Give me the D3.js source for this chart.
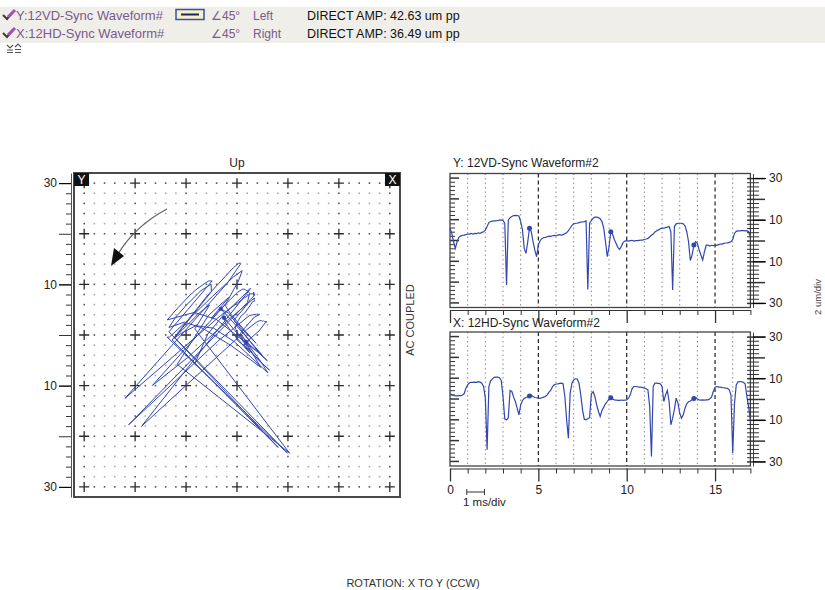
<!DOCTYPE html>
<html>
<head>
<meta charset="utf-8">
<script src="https://cdn.jsdelivr.net/npm/d3@7"></script>
<style>
  body { margin: 0; background: #fff; }
  svg { display: block; font-family: "Liberation Sans", Arial, sans-serif; }
</style>
</head>
<body>
<svg id="chart" width="825" height="590"></svg>
<script>
// header rows
const channelNames = ['Y:12VD-Sync Waveform#', 'X:12HD-Sync Waveform#'];
const probeAngles = [45, 45];
const probeSides = ['Left', 'Right'];
const directAmps = ['DIRECT AMP: 42.63 um pp', 'DIRECT AMP: 36.49 um pp'];

// waveforms, one sample every 0.1 ms from 0 to 17 ms (um)
const sampleStepMs = 0.1;
const waveY = [
  5.9, 3.4, -0.6, -3.8, -0.6, 1.5, 2.1, 2.5, 2.6, 2.8,
  3.1, 3.1, 3.4, 3.1, 3.4, 3.3, 3.7, 3.4, 3.9, 4.2,
  5.0, 6.7, 8.6, 9.1, 9.3, 9.4, 9.4, 9.6, 9.8, 9.9,
  9.6, 8.3, -21.4, 9.9, 11.0, 11.5, 12.0, 12.1, 12.0, 11.8,
  9.1, 5.1, -3.8, -6.2, -0.6, 5.9, 4.2, -0.6, -4.6, -7.8,
  -2.2, -0.1, 0.9, 1.4, 1.5, 1.8, 2.1, 2.0, 2.3, 2.5,
  2.3, 2.6, 2.8, 2.6, 2.8, 3.3, 3.7, 4.7, 5.9, 7.3,
  8.0, 8.3, 8.3, 8.6, 8.8, 8.9, 9.1, 9.4, -23.5, 8.3,
  9.6, 10.7, 11.2, 11.2, 11.0, 10.5, 9.1, 5.9, -0.6, -7.8,
  -3.0, 4.2, 3.1, 0.5, -1.4, -3.3, -4.3, -2.7, -0.9, -0.3,
  -0.1, -0.3, -0.1, 0.1, -0.3, -0.1, -0.1, 0.1, 0.2, 0.2,
  0.5, 0.7, 1.0, 1.8, 2.5, 3.1, 4.1, 4.7, 5.1, 5.6,
  5.9, 5.9, 6.2, 6.4, 6.7, 4.2, -23.8, 6.7, 8.0, 8.3,
  8.3, 8.3, 8.0, 7.0, 4.2, -0.6, -9.6, -7.0, -2.2, -0.6,
  -1.4, -4.6, -7.0, -9.4, -5.4, -2.2, -2.2, -2.7, -2.3, -2.5,
  -2.2, -2.3, -2.0, -1.7, -1.7, -1.4, -1.2, -1.1, -0.9, -0.6,
  0.5, 3.4, 4.4, 4.6, 4.6, 4.7, 4.7, 4.6, 4.7, 4.2,
  1.8
];
const waveX = [
  2.5, 2.0, 1.7, 1.5, 1.5, 1.7, 1.5, 1.9, 2.5, 5.2,
  6.8, 7.8, 8.0, 8.0, 8.1, 8.0, 8.3, 8.1, 7.6, 6.0,
  0.4, -24.4, 6.0, 8.7, 9.7, 10.4, 10.5, 10.5, 10.2, 8.9,
  1.2, -9.7, -10.0, -9.0, 4.1, 3.6, 0.9, -1.2, -4.4, -7.6,
  -2.8, -0.7, 0.3, 0.7, 1.1, 1.4, 1.9, 1.2, 0.7, 0.6,
  0.4, 0.3, 0.6, 0.9, 1.2, 2.0, 3.3, 4.1, 6.0, 6.8,
  7.2, 7.3, 7.5, 7.6, 7.3, 1.2, -10.0, -18.8, 2.8, 7.6,
  9.2, 9.7, 9.6, 7.6, 2.0, -5.2, -9.7, -10.0, -9.5, -9.0,
  2.5, 3.5, 1.2, -2.8, -6.0, -8.4, -5.5, -3.9, -2.3, -1.2,
  0.0, 0.6, 0.0, -0.4, -0.5, -0.7, -0.7, -0.5, -0.7, -0.5,
  -0.4, 0.4, 2.0, 4.9, 6.0, 6.0, 5.9, 5.7, 5.7, 5.5,
  5.2, 4.9, 4.4, -3.6, -27.6, 6.0, 7.6, 7.6, 7.5, 7.3,
  6.0, -1.2, 2.0, 4.1, -1.2, -12.4, -9.2, -5.0, 0.4, -2.0,
  -6.8, -9.2, -7.6, -4.4, -2.3, -1.3, -1.0, -0.4, 0.3, 0.7,
  0.0, -0.4, -0.5, -0.4, -0.5, -0.4, -0.4, 0.1, 0.9, 3.6,
  5.7, 6.0, 5.7, 5.7, 5.5, 5.4, 5.2, 5.1, 4.4, 2.0,
  -26.0, -2.0, 6.8, 8.3, 8.4, 8.3, 8.0, 7.3, 1.2, -3.9,
  -10.0
];
// once-per-turn marks (ms)
const keyphasorMs = [4.5, 9.1, 13.8];

// axes
const ampLabels = [30, 10, -10, -30];
const timeLabels = [0, 5, 10, 15];
const orbitGrid = [-30, -20, -10, 0, 10, 20, 30];

const svg = d3.select('#chart');
const blue = '#3346b0';

// ---------- header ----------
svg.append('rect').attr('x', 0).attr('y', 7).attr('width', 825).attr('height', 36).attr('fill', '#efeee8');

channelNames.forEach((name, i) => {
  const cy = 15 + i * 18;
  const g = svg.append('g');
  g.append('path').attr('d', `M3,${cy} L7,${cy + 4} L13,${cy - 3}`)
    .attr('fill', 'none').attr('stroke', '#3a3a3a').attr('stroke-width', 2);
  g.append('path').attr('d', `M8,${cy + 2} L15,${cy - 5}`)
    .attr('stroke', '#a050b8').attr('stroke-width', 3);
  g.append('text').attr('x', 16).attr('y', cy + 4.5).attr('font-size', 13)
    .attr('fill', '#7a5a90').text(name);
  g.append('text').attr('x', 211).attr('y', cy + 4.5).attr('font-size', 12)
    .attr('fill', '#7a5a90').text(`\u2220${probeAngles[i]}°`);
  g.append('text').attr('x', 253).attr('y', cy + 4.5).attr('font-size', 12)
    .attr('fill', '#7a5a90').text(probeSides[i]);
  g.append('text').attr('x', 307).attr('y', cy + 4.5).attr('font-size', 12.5)
    .attr('fill', '#111').text(directAmps[i]);
});
// line style swatch
svg.append('rect').attr('x', 176).attr('y', 9.5).attr('width', 28).attr('height', 10)
  .attr('fill', '#f6f1c8').attr('stroke', '#3b4fa8').attr('stroke-width', 1.5);
svg.append('line').attr('x1', 181).attr('x2', 199).attr('y1', 14.5).attr('y2', 14.5)
  .attr('stroke', '#1d2660').attr('stroke-width', 2);
// small expand / collapse icons
[10, 18].forEach((x, i) => {
  const g = svg.append('g').attr('stroke', '#555').attr('fill', 'none').attr('stroke-width', 1.2);
  g.append('path').attr('d', i === 0
    ? `M${x - 3},45 L${x},48 L${x + 3},45 M${x - 3},50 H${x + 3} M${x - 3},52.5 H${x + 3}`
    : `M${x - 3},47 L${x},44 L${x + 3},47 M${x - 3},49.5 H${x + 3} M${x - 3},52.5 H${x + 3}`);
});

// ---------- orbit ----------
const ox = d3.scaleLinear().domain([-32, 32]).range([74, 400]);
const oy = d3.scaleLinear().domain([-32, 32]).range([497, 173]);

const orbitG = svg.append('g');
// dots every 2 um
const dotVals = d3.range(-30, 31, 2);
dotVals.forEach(a => {
  dotVals.forEach(b => {
    if (a % 10 === 0 && b % 10 === 0) return;
    const onMajor = a % 10 === 0 || b % 10 === 0;
    orbitG.append('rect').attr('x', ox(a) - 0.8).attr('y', oy(b) - 0.8)
      .attr('width', 1.6).attr('height', 1.6)
      .attr('fill', onMajor ? '#555' : '#aaa');
  });
});
// crosses
orbitGrid.forEach(a => {
  orbitGrid.forEach(b => {
    orbitG.append('path')
      .attr('d', `M${ox(a) - 5},${oy(b)} H${ox(a) + 5} M${ox(a)},${oy(b) - 5} V${oy(b) + 5}`)
      .attr('stroke', '#2a2a2a').attr('stroke-width', 1.3);
  });
});

// orbit built from the two probe waveforms (Y probe 45° left, X probe 45° right)
const yAng = (90 + probeAngles[0]) * Math.PI / 180;
const xAng = (90 - probeAngles[1]) * Math.PI / 180;
const orbit = waveY.map((y, i) => [
  waveX[i] * Math.cos(xAng) + y * Math.cos(yAng),
  waveX[i] * Math.sin(xAng) + y * Math.sin(yAng)
]);
orbitG.append('path').datum(orbit)
  .attr('d', d3.line().x(d => ox(d[0])).y(d => oy(d[1])))
  .attr('fill', 'none').attr('stroke', blue).attr('stroke-width', 1)
  .attr('stroke-linejoin', 'round');
keyphasorMs.forEach(t => {
  const p = orbit[Math.round(t / sampleStepMs)];
  orbitG.append('circle').attr('cx', ox(p[0])).attr('cy', oy(p[1])).attr('r', 2.2).attr('fill', blue);
});

// rotation arrow
svg.append('path').attr('d', 'M167,209 Q135,226 118,254')
  .attr('fill', 'none').attr('stroke', '#666').attr('stroke-width', 1.3);
svg.append('path').attr('d', 'M111,266 L114,248 L124,256 Z').attr('fill', '#111');

// frame
orbitG.append('rect').attr('x', 74).attr('y', 173).attr('width', 326).attr('height', 324)
  .attr('fill', 'none').attr('stroke', '#4a4a4a').attr('stroke-width', 2);
[['Y', 74], ['X', 385]].forEach(([lab, x]) => {
  orbitG.append('rect').attr('x', x).attr('y', 173).attr('width', 15).attr('height', 13).attr('fill', '#111');
  orbitG.append('text').attr('x', x + 7.5).attr('y', 184).attr('text-anchor', 'middle')
    .attr('font-size', 12).attr('fill', '#fff').text(lab);
});

// left scale
const orbitAxis = svg.append('g').attr('transform', 'translate(71,0)')
  .call(d3.axisLeft(oy).tickValues(d3.range(-30, 31, 2)).tickSizeOuter(0).tickFormat(''));
orbitAxis.selectAll('.tick line').attr('x2', d => d % 10 === 0 ? -12 : -5).attr('stroke', '#333');
orbitAxis.select('.domain').attr('stroke', '#555');
const orbitLab = svg.append('g').attr('transform', 'translate(71,0)')
  .call(d3.axisLeft(oy).tickValues(ampLabels).tickSize(12).tickPadding(2).tickFormat(d => Math.abs(d)));
orbitLab.select('.domain').remove();
orbitLab.selectAll('text').attr('font-size', 12).attr('fill', '#222').attr('font-family', null);

svg.append('text').attr('x', 237).attr('y', 167).attr('text-anchor', 'middle')
  .attr('font-size', 12).attr('fill', '#222').text('Up');
svg.append('text').attr('transform', 'translate(414,320) rotate(-90)').attr('text-anchor', 'middle')
  .attr('font-size', 11).attr('fill', '#333').text('AC COUPLED');

// ---------- waveforms ----------
const wx = d3.scaleLinear().domain([0, 17]).range([450, 750.4]);
const timeOf = i => i * sampleStepMs;
const panels = [
  {title: 'Y: 12VD-Sync Waveform#2', data: waveY, top: 173.5, bottom: 307.5, titleY: 167},
  {title: 'X: 12HD-Sync Waveform#2', data: waveX, top: 332, bottom: 466, titleY: 327}
];

panels.forEach((p, pi) => {
  const y = d3.scaleLinear().domain([-32.2, 32.2]).range([p.bottom, p.top]);
  const g = svg.append('g');

  // time grid
  d3.range(1, 17).forEach(t => {
    const major = t % 5 === 0;
    g.append('line').attr('x1', wx(t)).attr('x2', wx(t)).attr('y1', p.top).attr('y2', p.bottom)
      .attr('stroke', major ? '#222' : '#8a8a8a')
      .attr('stroke-width', major ? 1.2 : 1)
      .attr('stroke-dasharray', major ? '4,3' : '1.5,3');
  });

  // inner ticks on the left edge
  d3.range(-30, 31, 2).forEach(v => {
    g.append('line').attr('x1', 450).attr('x2', 450 + (v % 10 === 0 ? 9 : 5))
      .attr('y1', y(v)).attr('y2', y(v))
      .attr('stroke', '#333').attr('stroke-width', v % 10 === 0 ? 1.5 : 1);
  });

  g.append('rect').attr('x', 450).attr('y', p.top).attr('width', 300.4).attr('height', p.bottom - p.top)
    .attr('fill', 'none').attr('stroke', '#444').attr('stroke-width', 1.3);

  g.append('path').datum(p.data)
    .attr('d', d3.line().x((d, i) => wx(timeOf(i))).y(d => y(d)))
    .attr('fill', 'none').attr('stroke', blue).attr('stroke-width', 1.2);
  keyphasorMs.forEach(t => {
    const v = p.data[Math.round(t / sampleStepMs)];
    g.append('circle').attr('cx', wx(t)).attr('cy', y(v)).attr('r', 2.5).attr('fill', blue);
  });

  // right amplitude scale
  const ra = svg.append('g').attr('transform', 'translate(753,0)')
    .call(d3.axisRight(y).tickValues(d3.range(-30, 31, 2)).tickSizeOuter(0).tickFormat(''));
  ra.selectAll('.tick line').attr('x1', -6).attr('x2', d => d % 10 === 0 ? 12 : 6)
    .attr('stroke', '#333').attr('stroke-width', d => d % 10 === 0 ? 1.5 : 1);
  ra.select('.domain').attr('stroke', '#444');
  const rl = svg.append('g').attr('transform', 'translate(753,0)')
    .call(d3.axisRight(y).tickValues(ampLabels).tickSize(13).tickPadding(3).tickFormat(d => Math.abs(d)));
  rl.select('.domain').remove();
  rl.selectAll('text').attr('font-size', 12).attr('fill', '#222').attr('font-family', null);

  // time axis under the panel
  const axisY = p.bottom + 2.5;
  const ta = svg.append('g').attr('transform', `translate(0,${axisY})`)
    .call(d3.axisBottom(wx).tickValues(d3.range(0, 18, 1)).tickSizeOuter(0).tickFormat(''));
  ta.selectAll('.tick line').attr('y2', d => d % 5 === 0 ? 13 : 5).attr('stroke', '#333')
    .attr('stroke-width', d => d % 5 === 0 ? 1.3 : 1);
  ta.select('.domain').attr('stroke', '#333');
  if (pi === 1) {
    const tl = svg.append('g').attr('transform', `translate(0,${axisY})`)
      .call(d3.axisBottom(wx).tickValues(timeLabels).tickSize(13).tickPadding(4));
    tl.select('.domain').remove();
    tl.selectAll('line').remove();
    tl.selectAll('text').attr('font-size', 12).attr('fill', '#222').attr('font-family', null);
  }

  svg.append('text').attr('x', 453).attr('y', p.titleY).attr('font-size', 12)
    .attr('fill', '#222').text(p.title);
});

// 1 ms scale bar
svg.append('path')
  .attr('d', `M${wx(0.95)},489 V495 M${wx(0.95)},492 H${wx(1.95)} M${wx(1.95)},489 V495`)
  .attr('stroke', '#333').attr('fill', 'none');
svg.append('text').attr('x', 463).attr('y', 506).attr('font-size', 11.5).attr('fill', '#222').text('1 ms/div');

svg.append('text').attr('transform', 'translate(821,297) rotate(-90)').attr('text-anchor', 'middle')
  .attr('font-size', 9.5).attr('fill', '#444').text('2 um/div');

svg.append('text').attr('x', 413).attr('y', 587).attr('text-anchor', 'middle')
  .attr('font-size', 11).attr('fill', '#333').text('ROTATION: X TO Y (CCW)');
</script>
</body>
</html>
